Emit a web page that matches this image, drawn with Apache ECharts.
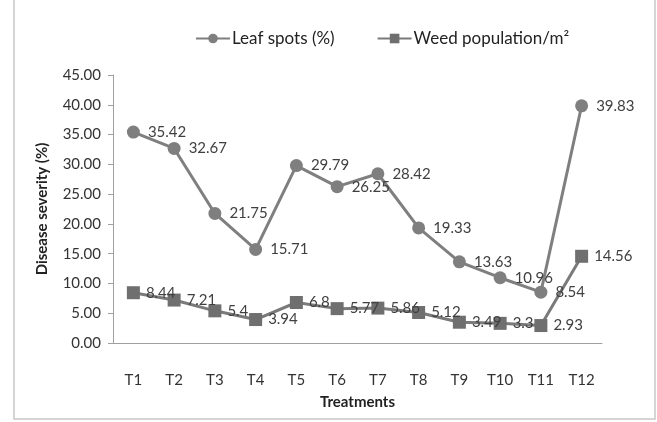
<!DOCTYPE html>
<html><head><meta charset="utf-8">
<script src="https://cdn.jsdelivr.net/npm/echarts@6/dist/echarts.min.js"></script>
<style>html,body{margin:0;padding:0;background:#fff}#c{width:657px;height:422px}</style>
</head><body><div id="c"></div>
<script>
const categories = ['T1','T2','T3','T4','T5','T6','T7','T8','T9','T10','T11','T12'];
const leafSpots = [35.42, 32.67, 21.75, 15.71, 29.79, 26.25, 28.42, 19.33, 13.63, 10.96, 8.54, 39.83];
const weedPop = [8.44, 7.21, 5.4, 3.94, 6.8, 5.77, 5.86, 5.12, 3.49, 3.3, 2.93, 14.56];
const yTicks = {min: 0, max: 45, interval: 5};

const chart = echarts.init(document.getElementById('c'));
const font = 'Lato, "Open Sans", sans-serif';
chart.setOption({
  animation: false,
  textStyle: {fontFamily: font},
  graphic: [{type: 'rect', shape: {x: 14, y: -2, width: 641, height: 421},
    style: {fill: 'none', stroke: '#c8c8c8', lineWidth: 1.5}, silent: true}],
  legend: {
    top: 25, left: 190, itemGap: 42, itemWidth: 34, itemHeight: 12,
    textStyle: {fontSize: 17, color: '#222', fontFamily: font, padding: [0, 0, 0, -3]},
    data: ['Leaf spots (%)', 'Weed population/m²']
  },
  grid: {left: 113, right: 55, top: 75, bottom: 79},
  xAxis: {
    type: 'category', data: categories, boundaryGap: true,
    name: 'Treatments', nameLocation: 'middle', nameGap: 52,
    nameTextStyle: {fontWeight: 'bold', fontSize: 15, color: '#222'},
    axisLine: {lineStyle: {color: '#a0a0a0'}},
    axisTick: {alignWithLabel: false, length: 5, lineStyle: {color: '#a0a0a0'}},
    axisLabel: {fontSize: 15, color: '#333', margin: 30}
  },
  yAxis: {
    type: 'value', min: yTicks.min, max: yTicks.max, interval: yTicks.interval,
    name: 'Disease severity (%)', nameLocation: 'middle', nameGap: 63, nameRotate: 90,
    nameTextStyle: {fontWeight: 'bold', fontSize: 15, color: '#222'},
    splitLine: {show: false},
    axisLine: {show: true, lineStyle: {color: '#a0a0a0'}},
    axisTick: {show: true, length: 5, lineStyle: {color: '#a0a0a0'}},
    axisLabel: {fontSize: 15, color: '#333', margin: 12, formatter: v => v.toFixed(2)}
  },
  series: [
    {
      name: 'Leaf spots (%)', type: 'line', data: leafSpots,
      symbol: 'circle', symbolSize: 13,
      lineStyle: {color: '#7f7f7f', width: 3},
      itemStyle: {color: '#7f7f7f'},
      label: {show: true, position: 'right', distance: 8, fontSize: 15, color: '#404040', fontFamily: font}
    },
    {
      name: 'Weed population/m²', type: 'line', data: weedPop,
      symbol: 'rect', symbolSize: 13,
      lineStyle: {color: '#7a7a7a', width: 3},
      itemStyle: {color: '#6f6f6f'},
      label: {show: true, position: 'right', distance: 6, fontSize: 15, color: '#404040', fontFamily: font}
    }
  ]
});
</script></body></html>
